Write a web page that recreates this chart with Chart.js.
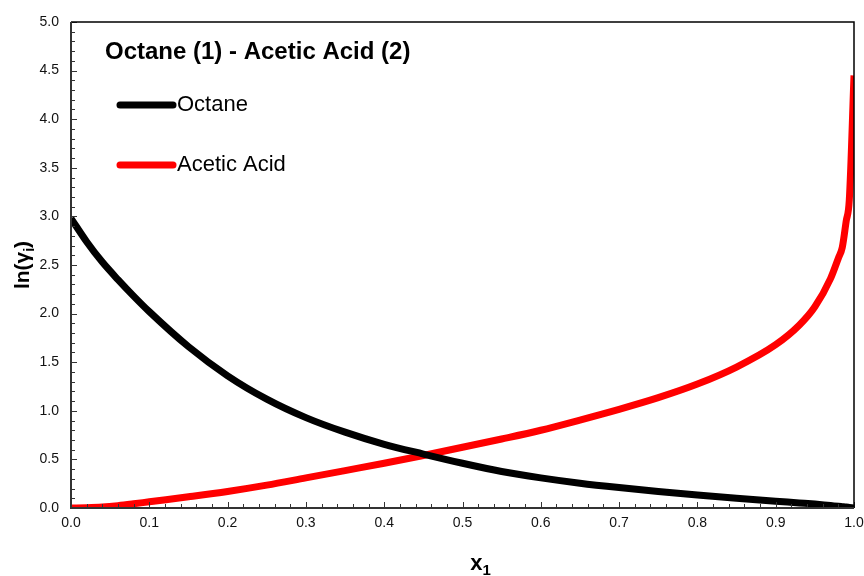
<!DOCTYPE html>
<html>
<head>
<meta charset="utf-8">
<script src="https://cdn.jsdelivr.net/npm/chart.js@4/dist/chart.umd.min.js"></script>
<style>
html,body{margin:0;padding:0;background:#fff;}
#wrap{width:864px;height:576px;position:relative;}
</style>
</head>
<body>
<div id="wrap"><canvas id="c" width="864" height="576"></canvas></div>
<script>
const chartTitle = "Octane (1) - Acetic Acid (2)";
const xAxisTitle = "x";
const xAxisSub = "1";
const yAxisTitle = "ln(γ";
const yAxisSub = "i";
const seriesNames = ["Octane", "Acetic Acid"];
const seriesColors = ["#000000", "#ff0000"];
const x1 = [0, 0.02, 0.04, 0.06, 0.08, 0.1, 0.15, 0.2, 0.25, 0.3, 0.35, 0.4, 0.45, 0.5, 0.55, 0.6, 0.65, 0.7, 0.75, 0.8, 0.85, 0.9, 0.93, 0.95, 0.97, 0.98, 0.985, 0.99, 0.994, 1.0];
const lnGammaOctane = [2.98, 2.74, 2.53, 2.35, 2.18, 2.02, 1.66, 1.36, 1.12, 0.93, 0.78, 0.655, 0.555, 0.46, 0.375, 0.31, 0.255, 0.21, 0.17, 0.133, 0.10, 0.07, 0.052, 0.04, 0.025, 0.018, 0.014, 0.01, 0.006, 0.0];
const lnGammaAcetic = [0.0, 0.003, 0.01, 0.024, 0.043, 0.064, 0.115, 0.17, 0.235, 0.31, 0.385, 0.46, 0.54, 0.625, 0.71, 0.80, 0.905, 1.015, 1.135, 1.275, 1.45, 1.68, 1.88, 2.07, 2.36, 2.57, 2.68, 2.95, 3.17, 4.45];
const xTickStep = 0.1, xMinorStep = 0.02;
const yTickStep = 0.5, yMinorStep = 0.1;

const FONT = "'Liberation Sans', Arial, sans-serif";

function pts(xs, ys){ return xs.map((x,i)=>({x:x, y:ys[i]})); }

const decor = {
  id: 'decor',
  afterDraw(chart){
    const ctx = chart.ctx, a = chart.chartArea;
    const xs = chart.scales.x, ys = chart.scales.y;
    ctx.save();
    // inward ticks
    ctx.strokeStyle = '#333';
    ctx.lineWidth = 1;
    for (let i=0;i<=Math.round((xs.max-xs.min)/xMinorStep);i++){
      const v = xs.min + i*xMinorStep;
      const px = Math.round(xs.getPixelForValue(v))+0.5;
      const major = (i % Math.round(xTickStep/xMinorStep))===0;
      ctx.beginPath(); ctx.moveTo(px, a.bottom); ctx.lineTo(px, a.bottom-(major?6:4)); ctx.stroke();
    }
    for (let i=0;i<=Math.round((ys.max-ys.min)/yMinorStep);i++){
      const v = ys.min + i*yMinorStep;
      const py = Math.round(ys.getPixelForValue(v))+0.5;
      const major = (i % Math.round(yTickStep/yMinorStep))===0;
      ctx.beginPath(); ctx.moveTo(a.left, py); ctx.lineTo(a.left+(major?6:4), py); ctx.stroke();
    }
    // frame top/right
    ctx.strokeStyle = '#000';
    ctx.lineWidth = 1.5;
    ctx.beginPath();
    ctx.moveTo(a.left, a.top); ctx.lineTo(a.right, a.top); ctx.lineTo(a.right, a.bottom);
    ctx.stroke();
    // left/bottom axes
    ctx.strokeStyle = '#333';
    ctx.lineWidth = 2;
    ctx.beginPath();
    ctx.moveTo(a.left, a.top); ctx.lineTo(a.left, a.bottom); ctx.lineTo(a.right, a.bottom);
    ctx.stroke();

    // title
    ctx.fillStyle = '#000';
    ctx.font = 'bold 24px ' + FONT;
    ctx.textAlign = 'left'; ctx.textBaseline = 'middle';
    ctx.fillText(chartTitle, 105, 52);

    // legend
    const legY = [105, 165];
    chart.data.datasets.forEach((ds, i)=>{
      ctx.strokeStyle = ds.borderColor;
      ctx.lineWidth = 7; ctx.lineCap = 'round';
      ctx.beginPath(); ctx.moveTo(120, legY[i]); ctx.lineTo(173, legY[i]); ctx.stroke();
      ctx.fillStyle = '#000';
      ctx.font = '22px ' + FONT;
      ctx.textAlign = 'left'; ctx.textBaseline = 'middle';
      ctx.fillText(ds.label, 177, legY[i]);
    });
    ctx.lineCap = 'butt';

    // x axis title
    ctx.fillStyle = '#000';
    ctx.font = 'bold 22px ' + FONT;
    ctx.textBaseline = 'alphabetic'; ctx.textAlign = 'left';
    const xw = ctx.measureText(xAxisTitle).width;
    ctx.font = 'bold 15px ' + FONT;
    const sw = ctx.measureText(xAxisSub).width;
    const cx = (a.left + a.right)/2 + 18;
    const startX = cx - (xw+sw)/2;
    ctx.font = 'bold 22px ' + FONT;
    ctx.fillText(xAxisTitle, startX, 570);
    ctx.font = 'bold 15px ' + FONT;
    ctx.fillText(xAxisSub, startX + xw, 575);

    // y axis title
    ctx.save();
    ctx.translate(29, 265);
    ctx.rotate(-Math.PI/2);
    ctx.font = 'bold 21px ' + FONT;
    const w1 = ctx.measureText(yAxisTitle).width;
    ctx.font = 'bold 14px ' + FONT;
    const w2 = ctx.measureText(yAxisSub).width;
    ctx.font = 'bold 21px ' + FONT;
    const w3 = ctx.measureText(')').width;
    let sx = -(w1+w2+w3)/2;
    ctx.fillText(yAxisTitle, sx, 0);
    ctx.font = 'bold 14px ' + FONT;
    ctx.fillText(yAxisSub, sx+w1, 5);
    ctx.font = 'bold 21px ' + FONT;
    ctx.fillText(')', sx+w1+w2, 0);
    ctx.restore();

    ctx.restore();
  }
};

new Chart(document.getElementById('c'), {
  type: 'line',
  data: {
    datasets: [
      { label: seriesNames[0], data: pts(x1, lnGammaOctane), borderColor: seriesColors[0], backgroundColor: seriesColors[0], borderWidth: 7, pointRadius: 0, cubicInterpolationMode: 'monotone', fill: false },
      { label: seriesNames[1], data: pts(x1, lnGammaAcetic), borderColor: seriesColors[1], backgroundColor: seriesColors[1], borderWidth: 7, pointRadius: 0, cubicInterpolationMode: 'monotone', fill: false }
    ]
  },
  options: {
    responsive: false,
    animation: false,
    devicePixelRatio: 1,
    layout: { padding: { top: 22, right: 0, left: 0, bottom: 0 } },
    plugins: { legend: { display: false }, title: { display: false }, tooltip: { enabled: false } },
    scales: {
      x: {
        type: 'linear', min: 0, max: 1,
        grid: { display: false, drawTicks: false },
        border: { display: false },
        ticks: { stepSize: xTickStep, padding: 7, color: '#111', font: { family: FONT, size: 14 }, callback: v => Number(v).toFixed(1), maxRotation: 0 },
        afterFit(s){ s.height = 68; s.paddingRight = 10; }
      },
      y: {
        type: 'linear', min: 0, max: 5,
        grid: { display: false, drawTicks: false },
        border: { display: false },
        ticks: { stepSize: yTickStep, padding: 12, color: '#111', font: { family: FONT, size: 14 }, callback: v => Number(v).toFixed(1) },
        afterFit(s){ s.width = 71; }
      }
    }
  },
  plugins: [decor]
});
</script>
</body>
</html>
